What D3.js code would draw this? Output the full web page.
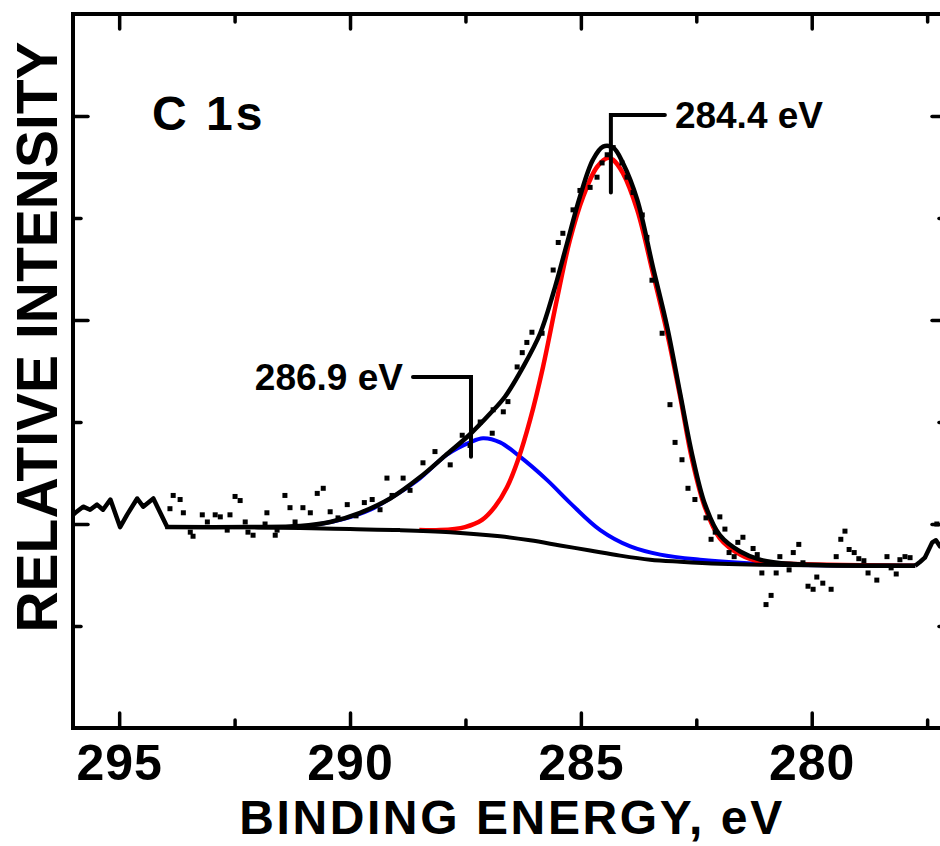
<!DOCTYPE html>
<html>
<head>
<meta charset="utf-8">
<script src="https://cdn.jsdelivr.net/npm/d3@7"></script>
<style>
  html, body { margin: 0; padding: 0; background: #fff; }
  svg { display: block; font-family: "Liberation Sans", Arial, Helvetica, sans-serif; font-weight: bold; }
</style>
</head>
<body>
<div id="chart"></div>
<script>
// C 1s spectrum: [binding energy (eV), relative intensity (arb. units)]

// raw scan drawn as a line at both ends of the window
const scanHigh = [[296.00,2.09],[295.95,2.11],[295.78,2.17],[295.63,2.14],[295.48,2.19],[295.35,2.14],[295.19,2.24],
  [294.98,1.97],[294.83,2.09],[294.61,2.25],[294.48,2.17],[294.26,2.25],[294.11,2.11],[293.96,1.97]];
const scanLow = [[277.76,1.59],[277.65,1.63],[277.55,1.67],[277.39,1.82],[277.31,1.84],[277.22,1.78],[277.11,1.76]];

// measured points
const measured = [
  [293.90,2.15],[293.83,2.28],[293.68,2.24],[293.61,2.11],[293.46,1.92],[293.40,1.88],[293.20,2.09],[293.09,2.02],
  [292.92,2.09],[292.81,2.07],[292.66,1.94],[292.60,2.09],[292.49,2.27],[292.38,2.23],[292.27,2.02],[292.21,1.92],
  [292.10,1.89],[291.84,2.00],[291.80,2.11],[291.62,1.89],[291.58,1.94],[291.41,2.28],[291.30,2.16],[291.19,2.02],
  [291.02,2.16],[290.86,2.11],[290.71,2.30],[290.58,2.35],[290.43,2.12],[290.26,2.06],[290.06,2.19],[289.87,2.08],
  [289.69,2.21],[289.52,2.24],[289.35,2.14],[289.20,2.45],[289.09,2.28],[288.85,2.45],[288.70,2.33],[288.42,2.60],
  [288.16,2.71],[287.83,2.58],[287.57,2.87],[287.40,2.77],[287.18,3.00],[286.92,2.89],[286.90,3.12],[286.68,3.10],
  [286.58,3.20],[286.38,3.54],[286.27,3.68],[286.17,3.78],[286.06,3.88],[285.84,3.87],[285.60,4.49],[285.49,4.76],
  [285.39,4.85],[285.17,5.08],[285.02,5.27],[284.80,5.30],[284.65,5.40],[284.54,5.54],[284.43,5.62],[284.30,5.69],
  [284.11,5.54],[284.00,5.40],[283.87,5.25],[283.67,5.03],[283.57,4.81],[283.46,4.39],[283.24,3.87],[283.07,3.17],
  [282.96,2.80],[282.81,2.63],[282.68,2.35],[282.53,2.24],[282.29,2.06],[282.18,1.85],[282.09,1.92],[281.99,2.07],
  [281.88,1.95],[281.79,1.72],[281.68,1.68],[281.60,1.82],[281.49,1.87],[281.27,1.76],[281.18,1.70],[281.08,1.52],
  [280.99,1.21],[280.88,1.30],[280.77,1.52],[280.69,1.68],[280.49,1.55],[280.40,1.72],[280.28,1.80],[280.19,1.62],
  [280.08,1.39],[279.97,1.36],[279.89,1.48],[279.76,1.42],[279.58,1.36],[279.47,1.68],[279.37,1.85],[279.28,1.93],
  [279.19,1.75],[279.08,1.72],[278.98,1.66],[278.87,1.64],[278.78,1.52],[278.59,1.45],[278.37,1.68],[278.28,1.57],
  [278.17,1.51],[278.09,1.65],[277.98,1.68],[277.87,1.67],[277.29,2.00]
];

// fit: Shirley background, two components, sum envelope
const background = [[294.00,1.97],[292.60,1.97],[291.08,1.96],[290.00,1.95],[288.92,1.94],[287.83,1.92],[286.75,1.88],
  [286.10,1.84],[285.45,1.79],[284.80,1.74],[284.15,1.69],[283.50,1.65],[282.85,1.63],[281.99,1.61],[281.12,1.60],[277.76,1.59]];
const peakC = [[288.50,1.94],[288.05,1.94],[287.51,1.97],[287.14,2.04],[286.86,2.17],[286.60,2.36],[286.36,2.63],[286.10,3.02],
  [285.82,3.54],[285.52,4.20],[285.24,4.78],[284.95,5.21],[284.65,5.50],[284.41,5.59],[284.30,5.57],[284.09,5.44],
  [283.78,5.08],[283.44,4.46],[283.13,3.87],[282.85,3.25],[282.59,2.63],[282.31,2.16],[281.99,1.86],[281.55,1.70],
  [281.12,1.63],[280.47,1.61],[277.76,1.59]];
const peakCO = [[291.08,1.97],[290.21,2.04],[289.56,2.14],[288.92,2.31],[288.48,2.45],[287.90,2.68],[287.40,2.80],
  [287.12,2.84],[286.75,2.80],[286.32,2.66],[285.73,2.43],[285.24,2.21],[284.58,1.94],[283.93,1.78],[283.28,1.70],
  [282.42,1.65],[281.55,1.62],[280.47,1.60],[277.76,1.59]];
const envelope = [[294.00,1.97],[292.16,1.97],[291.08,1.98],[290.43,2.02],[289.78,2.11],[289.13,2.25],[288.48,2.46],
  [287.94,2.67],[287.40,2.88],[286.97,3.08],[286.64,3.25],[286.25,3.54],[285.88,3.87],[285.60,4.26],[285.30,4.75],
  [285.02,5.21],[284.74,5.57],[284.52,5.70],[284.30,5.69],[284.09,5.54],[283.78,5.18],[283.44,4.52],[283.13,3.93],
  [282.85,3.28],[282.59,2.68],[282.31,2.19],[281.99,1.89],[281.55,1.73],[281.12,1.65],[280.47,1.61],[277.76,1.59]];

// peak markers
const markerLabels = ["284.4 eV", "286.9 eV"];
const markerEnergies = [284.35, 287.38];
const markerSpans = [[6.01, 5.25], [3.44, 2.66]]; // stem top / bottom intensity

const xMajor = [295, 290, 285, 280];
const xMinor = [292.5, 287.5, 282.5, 277.5];
const yMajor = [2, 4, 6];
const yMinor = [1, 3, 5];

class SpectrumChart {
  constructor({ el }) {
    this.el = el;
    this.initVis();
  }

  initVis() {
    this.width = 940;
    this.height = 846;
    this.frame = { left: 73, right: 947, top: 14, bottom: 728 };

    this.x = d3.scaleLinear().domain([296, 277.07]).range([this.frame.left, this.frame.right]);
    this.y = d3.scaleLinear().domain([0, 7]).range([this.frame.bottom, this.frame.top]);

    this.svg = d3.select(this.el).append("svg")
      .attr("width", this.width)
      .attr("height", this.height);

    this.svg.append("defs").append("clipPath").attr("id", "plot-clip")
      .append("rect")
      .attr("x", this.frame.left).attr("y", this.frame.top)
      .attr("width", this.frame.right - this.frame.left)
      .attr("height", this.frame.bottom - this.frame.top);

    this.line = d3.line().x((d) => this.x(d[0])).y((d) => this.y(d[1]));
    this.smooth = d3.line().x((d) => this.x(d[0])).y((d) => this.y(d[1])).curve(d3.curveCatmullRom.alpha(0.5));

    this.drawAxes();
    this.drawCurves();
    this.drawMarkers();
    this.drawText();
  }

  drawAxes() {
    const f = this.frame;
    const axes = [
      [d3.axisBottom, `translate(0,${f.bottom})`, this.x, true],
      [d3.axisTop, `translate(0,${f.top})`, this.x, false],
      [d3.axisLeft, `translate(${f.left},0)`, this.y, false],
      [d3.axisRight, `translate(${f.right},0)`, this.y, false],
    ];
    axes.forEach(([axisFn, tr, scale, labels]) => {
      const isX = scale === this.x;
      // major and minor ticks need their own groups, otherwise the join drops one set
      const major = this.svg.append("g").attr("transform", tr);
      major.call(axisFn(scale).tickValues(isX ? xMajor : yMajor).tickSize(-15).tickSizeOuter(0)
        .tickPadding(16).tickFormat(labels ? d3.format("d") : () => ""));
      const minor = this.svg.append("g").attr("transform", tr);
      minor.call(axisFn(scale).tickValues(isX ? xMinor : yMinor).tickSize(-8).tickSizeOuter(0).tickFormat(() => ""));
      [major, minor].forEach((g) => {
        g.selectAll(".domain").remove();
        g.attr("font-family", null).attr("font-size", 50);
        g.selectAll(".tick line").attr("stroke", "#000").attr("stroke-width", 3.5).attr("stroke-linecap", "round");
        g.selectAll(".tick text").attr("fill", "#000").attr("letter-spacing", 1);
      });
    });

    this.svg.append("rect")
      .attr("x", f.left).attr("y", f.top)
      .attr("width", f.right - f.left).attr("height", f.bottom - f.top)
      .attr("fill", "none").attr("stroke", "#000").attr("stroke-width", 4);
  }

  drawCurves() {
    const g = this.svg.append("g").attr("clip-path", "url(#plot-clip)");

    g.append("path").datum(peakCO).attr("d", this.smooth)
      .attr("fill", "none").attr("stroke", "#0000ff").attr("stroke-width", 4);
    g.append("path").datum(peakC).attr("d", this.smooth)
      .attr("fill", "none").attr("stroke", "#ff0000").attr("stroke-width", 4.5);
    g.append("path").datum(background).attr("d", this.smooth)
      .attr("fill", "none").attr("stroke", "#000").attr("stroke-width", 4);
    g.append("path").datum(envelope).attr("d", this.smooth)
      .attr("fill", "none").attr("stroke", "#000").attr("stroke-width", 4.5);

    [scanHigh, scanLow].forEach((scan) => {
      g.append("path").datum(scan).attr("d", this.line)
        .attr("fill", "none").attr("stroke", "#000").attr("stroke-width", 4.5)
        .attr("stroke-linejoin", "round");
    });

    g.selectAll("rect.pt")
      .data(measured)
      .join("rect")
      .attr("class", "pt")
      .attr("x", (d) => this.x(d[0]) - 2.5)
      .attr("y", (d) => this.y(d[1]) - 2.5)
      .attr("width", 5)
      .attr("height", 5)
      .attr("fill", "#000");
  }

  drawMarkers() {
    // first label sits to the right of its stem, second to the left
    const side = [1, -1];
    const arm = [54, 58];
    markerLabels.forEach((label, i) => {
      const xs = this.x(markerEnergies[i]);
      const yTop = this.y(markerSpans[i][0]);
      const yBot = this.y(markerSpans[i][1]);
      const xEnd = xs + side[i] * arm[i];
      const g = this.svg.append("g");
      g.append("path")
        .attr("d", `M${xs},${yBot}V${yTop}H${xEnd}`)
        .attr("fill", "none").attr("stroke", "#000").attr("stroke-width", 4)
        .attr("stroke-linecap", "round");
      g.append("text")
        .attr("x", xEnd + side[i] * 10)
        .attr("y", yTop + 13)
        .attr("text-anchor", side[i] > 0 ? "start" : "end")
        .attr("font-size", 37)
        .text(label);
    });
  }

  drawText() {
    this.svg.append("text")
      .attr("x", 152).attr("y", 130)
      .attr("font-size", 48).attr("letter-spacing", 3)
      .text("C 1s");

    this.svg.append("text")
      .attr("x", 512).attr("y", 834)
      .attr("text-anchor", "middle")
      .attr("font-size", 48)
      .attr("letter-spacing", 2.6)
      .text("BINDING ENERGY, eV");

    this.svg.append("text")
      .attr("transform", "translate(57,337) rotate(-90)")
      .attr("text-anchor", "middle")
      .attr("font-size", 57)
      .text("RELATIVE INTENSITY");
  }
}

new SpectrumChart({ el: document.getElementById("chart") });
</script>
</body>
</html>
